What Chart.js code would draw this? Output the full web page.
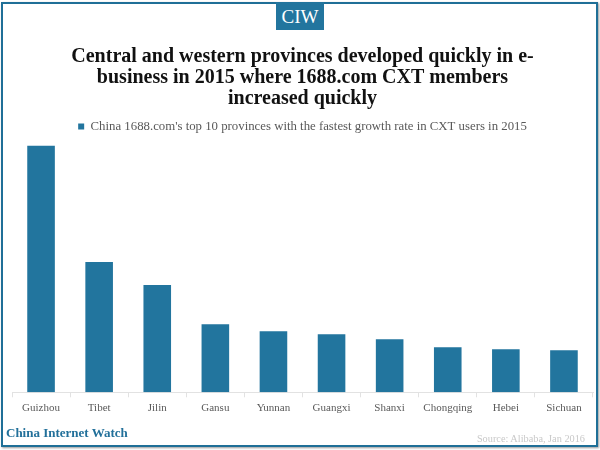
<!DOCTYPE html>
<html>
<head>
<meta charset="utf-8">
<script src="https://cdn.jsdelivr.net/npm/chart.js@4"></script>
<style>
  html, body { margin: 0; padding: 0; background: #fff; }
  #wrap { position: relative; width: 600px; height: 450px; overflow: hidden; font-family: "Liberation Serif", serif; }
  #frame { position: absolute; left: 1px; top: 2px; width: 593px; height: 441px; border: 2px solid #1f6f97; box-shadow: 1px 1px 2px #999; }
  #badge { position: absolute; left: 276px; top: 2px; width: 48px; height: 28px; background: #22759e; color: #fff; font-size: 19px; line-height: 30px; text-align: center; }
  #brand { position: absolute; left: 6px; top: 425px; color: #22709a; font-weight: bold; font-size: 13px; }
  #source { position: absolute; right: 15px; top: 433px; color: #c9c9c9; font-size: 10.3px; }
  canvas { position: absolute; left: 0; top: 0; }
</style>
</head>
<body>
<div id="wrap">
  <canvas id="c" width="600" height="450"></canvas>
  <div id="frame"></div>
  <div id="badge">CIW</div>
  <div id="brand">China Internet Watch</div>
  <div id="source">Source: Alibaba, Jan 2016</div>
</div>
<script>
const provinces = ['Guizhou', 'Tibet', 'Jilin', 'Gansu', 'Yunnan', 'Guangxi', 'Shanxi', 'Chongqing', 'Hebei', 'Sichuan']
const growth = [246, 130, 107, 68, 61, 58, 53, 45, 43, 42]
const seriesName = "China 1688.com's top 10 provinces with the fastest growth rate in CXT users in 2015"
const titleLines = [
  'Central and western provinces developed quickly in e-',
  'business in 2015 where 1688.com CXT members',
  'increased quickly'
]

Chart.defaults.font.family = '"Liberation Serif", serif'

new Chart(document.getElementById('c').getContext('2d'), {
  type: 'bar',
  data: {
    labels: provinces,
    datasets: [
      {
        label: seriesName,
        data: growth,
        backgroundColor: '#22759e',
        barPercentage: 0.475,
        categoryPercentage: 1
      }
    ]
  },
  options: {
    responsive: false,
    animation: false,
    layout: { padding: { top: 46, left: 12, right: 7, bottom: 31.5 } },
    plugins: {
      title: {
        display: true,
        text: titleLines,
        color: '#111',
        font: { size: 20, weight: 'bold', lineHeight: 1.05 },
        padding: { top: 0, bottom: 1.9 }
      },
      legend: {
        position: 'top',
        labels: {
          boxWidth: 6,
          boxHeight: 6,
          color: '#595959',
          font: { size: 12.8 },
          padding: 9.1
        }
      },
      tooltip: { enabled: false }
    },
    scales: {
      x: {
        offset: true,
        grid: { drawOnChartArea: false, color: '#e2e2e2', tickLength: 5 },
        border: { color: '#e2e2e2' },
        ticks: { color: '#595959', font: { size: 11 }, maxRotation: 0, padding: 4 }
      },
      y: { display: false, min: 0, max: 249 }
    }
  }
})
</script>
</body>
</html>
